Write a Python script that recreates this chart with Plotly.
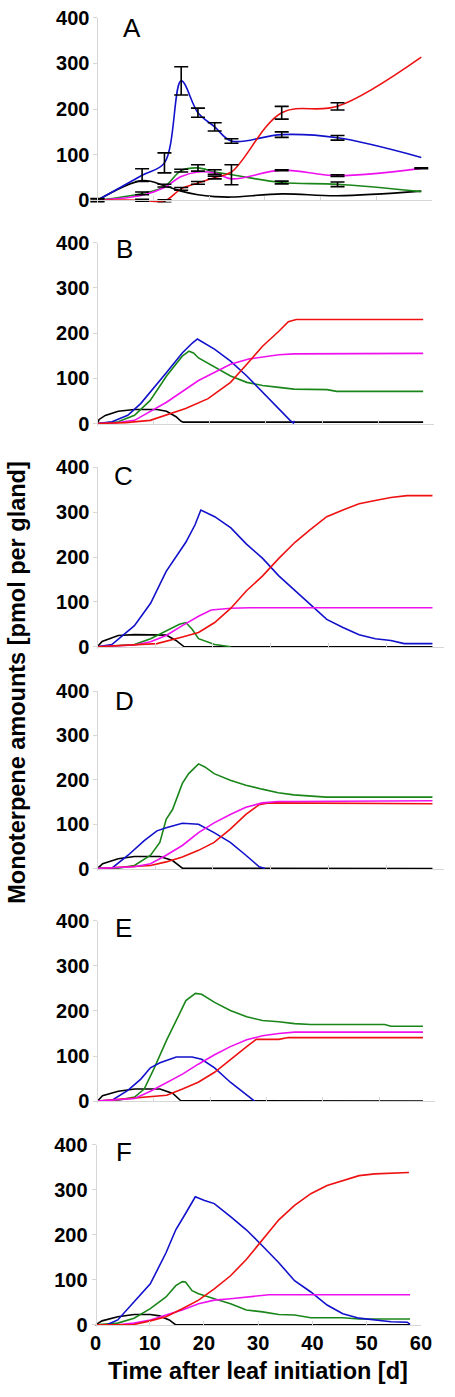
import plotly.graph_objects as go

W, H = 455, 1397

# ---------------- data ----------------
X_TICKS = [0, 10, 20, 30, 40, 50, 60]
Y_TICKS = [0, 100, 200, 300, 400]
PANEL_LETTERS = ["A", "B", "C", "D", "E", "F"]

# Panel A: measured data (smoothed line + error bars)
A_days = [0, 8, 12, 15, 18, 21, 24, 33, 43, 58]
A_red = [0, 0, -2, 25, 38, 50, 62, 192, 206, 314]
A_blue = [0, 55, 82, 262, 192, 161, 130, 144, 137, 94]
A_green = [0, 15, 30, 65, 71, 62, 56, 39, 35, 19]
A_magenta = [0, 11, 28, 52, 62, 60, 47, 66, 54, 70]
A_black = [0, 43, 32, 20, 12, 8, 7, 14, 10, 20]
A_red_err = [3, 2, 3, 3, 3, 3, None, 14, 8, None]
A_blue_err = [None, 14, 22, 31, 10, 9, 5, 6, 5, None]
A_green_err = [None, 3, None, 3, 7, 5, 22, 3, 5, None]
A_magenta_err = [None, None, None, None, None, None, None, 1, 2, 1]
A_black_err = [4, None, 3, None, None, None, None, None, None, None]

# Panel B
B_red_d = [0, 5, 9.4, 15.7, 19.7, 23.7, 26.6, 29.4, 32.3, 34, 35.4, 58]
B_red = [0, 2, 7, 33, 55, 91, 131, 171, 204, 225, 230, 230]
B_magenta_d = [0, 3, 6.6, 12.3, 18, 23.7, 27.1, 32.3, 35, 58]
B_magenta = [0, 1, 7, 47, 95, 131, 143, 152, 154, 155]
B_green_d = [0, 3.7, 6.6, 9.4, 12.3, 15.1, 16.3, 17.1, 18, 20.9, 23.7, 26.6, 29.4, 32.3, 35, 40.9, 42.6, 58]
B_green = [0, 4, 18, 51, 105, 149, 160, 156, 145, 124, 105, 91, 84, 80, 76, 75, 71, 71]
B_blue_d = [0, 2.6, 5.4, 7.7, 12.3, 15.1, 16.9, 17.8, 20.9, 23.7, 26.6, 29.4, 32.3, 34.3, 34.9, 35.1]
B_blue = [0, 4, 18, 44, 113, 156, 178, 187, 164, 138, 105, 69, 33, 7, 1, 6]
B_black_d = [0, 0.3, 1.4, 3.7, 6.6, 10.6, 12.3, 14, 14.9, 15.3, 58]
B_black = [0, 9, 18, 27, 31, 31, 27, 15, 5, 3, 3]

# Panel C
C_blue_d = [0, 2.5, 6.4, 9.2, 11.9, 13.1, 15.3, 16.9, 17.9, 20.3, 23.1, 25.8, 28.6, 31.4, 34.2, 36.4, 39.7, 42.5, 45.3, 48.1, 50.8, 53.1, 58]
C_blue = [0, 5, 47, 97, 168, 190, 233, 272, 305, 290, 265, 229, 197, 158, 125, 100, 61, 43, 27, 18, 14, 7, 7]
C_red_d = [0, 6.4, 10.3, 14.7, 17.5, 20.3, 23.1, 25.8, 28.6, 31.4, 34.2, 36.9, 39.7, 42.5, 45.3, 48.1, 50.8, 53.6, 58]
C_red = [0, 4, 7, 22, 32, 54, 86, 125, 158, 197, 233, 262, 290, 305, 319, 326, 333, 337, 337]
C_magenta_d = [0, 6.4, 9.2, 11.9, 14.7, 17.5, 19.7, 23.1, 26.4, 58]
C_magenta = [0, 4, 11, 25, 47, 68, 82, 86, 87, 87]
C_green_d = [0, 6.4, 9.2, 11.9, 14.2, 15.3, 16.4, 17.5, 20.3, 23.1]
C_green = [0, 5, 18, 36, 50, 54, 39, 18, 5, 0]
C_black_d = [0, 0.8, 3.6, 6.4, 11.9, 13.6, 15, 58]
C_black = [0, 12, 25, 27, 26, 14, 0, 0]

# Panel D
D_green_d = [0, 3.6, 6.4, 9.2, 10.8, 11.9, 13, 14.7, 15.8, 17.5, 18.6, 20.2, 23, 25.7, 28.5, 31.3, 34, 39.6, 58]
D_green = [0, 1, 7, 30, 59, 111, 133, 192, 214, 236, 229, 214, 199, 188, 179, 171, 166, 161, 161]
D_blue_d = [0, 2.5, 5.3, 8.1, 10.3, 11.9, 14.7, 17.5, 20.2, 23, 25.7, 28, 29]
D_blue = [0, 1, 30, 63, 85, 92, 102, 100, 81, 59, 30, 4, 0]
D_magenta_d = [0, 6.4, 9.2, 11.9, 14.7, 17.5, 20.2, 23, 25.7, 28.5, 31.3, 34, 58]
D_magenta = [0, 4, 11, 30, 52, 81, 103, 122, 138, 148, 151, 151, 153]
D_red_d = [0, 9.2, 11.9, 14.7, 17.5, 20.2, 23, 25.7, 28, 29.6, 58]
D_red = [0, 7, 15, 26, 41, 59, 89, 122, 144, 148, 146]
D_black_d = [0, 0.9, 3.6, 6.4, 10.8, 13, 14.7, 58]
D_black = [0, 11, 22, 27, 27, 18, 1, 0]

# Panel E
E_green_d = [0, 3.7, 6.6, 8.3, 10, 12.3, 14, 15.7, 17.4, 18.5, 20.8, 23.6, 26.5, 29.3, 32.2, 35, 37.9, 51, 52.1, 57.8]
E_green = [0, 2, 9, 27, 71, 136, 179, 223, 239, 237, 219, 201, 187, 179, 176, 172, 170, 170, 166, 166]
E_blue_d = [0, 2.6, 5.4, 7.7, 9.4, 11.1, 14, 16.8, 18.5, 20.8, 23.6, 26.5, 27.9]
E_blue = [0, 2, 24, 49, 74, 85, 98, 98, 93, 74, 42, 14, 0]
E_magenta_d = [0, 6.6, 9.4, 12.3, 15.1, 17.9, 20.8, 23.6, 26.5, 29.3, 32.2, 35, 57.8]
E_magenta = [0, 6, 22, 42, 60, 82, 103, 121, 136, 145, 150, 153, 153]
E_red_d = [0, 9.4, 12.3, 15.1, 17.9, 20.8, 23.6, 26.5, 28.2, 32.2, 33.9, 57.8]
E_red = [0, 9, 13, 27, 42, 64, 93, 121, 137, 137, 141, 141]
E_black_d = [0, 0.9, 3.7, 6.6, 11.1, 13.4, 14.8, 57.8]
E_black = [0, 12, 22, 27, 27, 17, 1, 0]

# Panel F
F_blue_d = [0, 2, 4.1, 7.1, 10.1, 13, 14.8, 16.6, 18.4, 20.1, 21.9, 24.9, 27.8, 30.8, 33.8, 36.7, 39.7, 42.7, 45.6, 48.6, 51.5, 54.5, 57.5, 58]
F_blue = [0, 0, 11, 51, 91, 160, 211, 247, 284, 276, 269, 240, 211, 175, 138, 98, 73, 44, 25, 15, 11, 7, 6, 1]
F_red_d = [0, 7.1, 10.1, 13, 16, 19, 21.9, 24.9, 27.8, 30.8, 33.8, 36.7, 39.7, 42.7, 45.6, 48.6, 51.5, 54.5, 57.8]
F_red = [0, 1, 9, 18, 36, 55, 80, 109, 145, 189, 233, 265, 291, 309, 320, 331, 335, 336, 338]
F_magenta_d = [0, 4.1, 7.1, 10.1, 13, 16, 19, 21.9, 24.9, 27.8, 30.8, 32, 58]
F_magenta = [0, 0, 4, 11, 22, 33, 47, 55, 58, 62, 65, 67, 67]
F_green_d = [0, 4.1, 7.1, 10.1, 13, 14.8, 16, 16.6, 17.8, 19, 21.9, 24.9, 27.8, 30.8, 33.8, 36.7, 39.7, 45.6, 48.6, 58]
F_green = [0, 4, 15, 36, 62, 87, 96, 95, 76, 69, 58, 47, 33, 29, 23, 22, 16, 16, 13, 13]
F_black_d = [0, 1.2, 4.1, 7.1, 10.1, 11.8, 13.6, 14.8, 58]
F_black = [0, 9, 18, 23, 23, 20, 11, 0, 0]

# ---------------- styling ----------------
COL = {"red": "#ee1111", "blue": "#1111cc", "green": "#1a861a",
       "magenta": "#ee11ee", "black": "#000000"}
FONT = "Liberation Sans, Arial, sans-serif"
AXIS_GRAY = "#d6d6d6"

# pixel geometry of each panel: x of day 0, x of day 60, y of value 0, y of value 400
GEOM = {
    "A": (95, 443, 192, 7),
    "B": (95, 445, 418.5, 235),
    "C": (95, 455, 645, 463),
    "D": (95, 455, 870, 690),
    "E": (95, 446, 1106, 923),
    "F": (93, 431, 1333, 1150),
}
LETTER_POS = {"A": (119, 17), "B": (112, 241), "C": (110, 472),
              "D": (111, 700), "E": (111, 930), "F": (112, 1158)}

PANELS = {
    "A": [("black", A_days, A_black, A_black_err), ("green", A_days, A_green, A_green_err),
          ("magenta", A_days, A_magenta, A_magenta_err), ("blue", A_days, A_blue, A_blue_err),
          ("red", A_days, A_red, A_red_err)],
    "B": [("black", B_black_d, B_black, None), ("green", B_green_d, B_green, None),
          ("blue", B_blue_d, B_blue, None), ("magenta", B_magenta_d, B_magenta, None),
          ("red", B_red_d, B_red, None)],
    "C": [("black", C_black_d, C_black, None), ("green", C_green_d, C_green, None),
          ("blue", C_blue_d, C_blue, None), ("magenta", C_magenta_d, C_magenta, None),
          ("red", C_red_d, C_red, None)],
    "D": [("black", D_black_d, D_black, None), ("green", D_green_d, D_green, None),
          ("blue", D_blue_d, D_blue, None), ("red", D_red_d, D_red, None),
          ("magenta", D_magenta_d, D_magenta, None)],
    "E": [("black", E_black_d, E_black, None), ("green", E_green_d, E_green, None),
          ("blue", E_blue_d, E_blue, None), ("red", E_red_d, E_red, None),
          ("magenta", E_magenta_d, E_magenta, None)],
    "F": [("black", F_black_d, F_black, None), ("green", F_green_d, F_green, None),
          ("blue", F_blue_d, F_blue, None), ("magenta", F_magenta_d, F_magenta, None),
          ("red", F_red_d, F_red, None)],
}

fig = go.Figure()
layout = dict(
    width=W, height=H, margin=dict(l=0, r=0, t=0, b=0),
    paper_bgcolor="white", plot_bgcolor="rgba(0,0,0,0)",
    showlegend=False, font=dict(family=FONT, color="black"),
)
annotations = []
YMIN = -5

for i, letter in enumerate(PANEL_LETTERS):
    sfx = "" if i == 0 else str(i + 1)
    x0, x60, y0, y400 = GEOM[letter]
    xmin = -1.4 if letter == "A" else 0
    pxd = (x60 - x0) / 60.0
    pyv = (y0 - y400) / 400.0
    left = x0 + xmin * pxd
    bottom = y0 - YMIN * pyv
    layout["xaxis" + sfx] = dict(
        domain=[left / W, x60 / W], range=[xmin, 60], anchor="free",
        position=1 - y0 / H, showline=True, linecolor=AXIS_GRAY, linewidth=1,
        ticks="inside", ticklen=4, tickcolor=AXIS_GRAY, tickvals=X_TICKS,
        ticktext=[str(t) for t in X_TICKS], showticklabels=(letter == "F"),
        tickfont=dict(family=FONT, size=20, color="black", weight="bold"),
        showgrid=False, zeroline=False, fixedrange=True,
    )
    layout["yaxis" + sfx] = dict(
        domain=[1 - bottom / H, 1 - y400 / H], range=[YMIN, 400], anchor="free",
        position=x0 / W, showline=True, linecolor=AXIS_GRAY, linewidth=1,
        ticks="outside", ticklen=4, tickcolor=AXIS_GRAY, tickvals=Y_TICKS,
        ticktext=[str(t) for t in Y_TICKS],
        tickfont=dict(family=FONT, size=20, color="black", weight="bold"),
        showgrid=False, zeroline=False, fixedrange=True,
    )
    xa, ya = "x" + sfx, "y" + sfx
    for name, days, vals, _ in PANELS[letter]:
        fig.add_trace(go.Scatter(
            x=days, y=vals, mode="lines", xaxis=xa, yaxis=ya,
            line=dict(color=COL[name], width=1.6,
                      shape="spline" if letter == "A" else "linear",
                      smoothing=1.0 if letter == "A" else None),
            hoverinfo="skip", showlegend=False,
        ))
    for name, days, vals, errs in PANELS[letter]:
        if errs is None:
            continue
        idx = [k for k, e in enumerate(errs) if e is not None]
        fig.add_trace(go.Scatter(
            x=[days[k] for k in idx], y=[vals[k] for k in idx], mode="markers",
            xaxis=xa, yaxis=ya, marker=dict(size=1, color="rgba(0,0,0,0)"),
            error_y=dict(type="data", array=[errs[k] for k in idx], visible=True,
                         color="black", thickness=1.6, width=7),
            hoverinfo="skip", showlegend=False,
        ))
    lx, ly = LETTER_POS[letter]
    annotations.append(dict(
        text=letter, x=lx / W, y=1 - ly / H, xref="paper", yref="paper",
        xanchor="left", yanchor="middle", showarrow=False,
        font=dict(family=FONT, size=26, color="black"),
    ))

annotations.append(dict(
    text="Time after leaf initiation [d]", x=262 / W, y=1 - 1380 / H,
    xref="paper", yref="paper", xanchor="center", yanchor="middle", showarrow=False,
    font=dict(family=FONT, size=23.5, color="black", weight="bold"),
))
annotations.append(dict(
    text="Monoterpene amounts [pmol per gland]", x=12 / W, y=1 - 681 / H,
    xref="paper", yref="paper", xanchor="center", yanchor="middle", showarrow=False,
    textangle=-90, font=dict(family=FONT, size=23.5, color="black", weight="bold"),
))
layout["annotations"] = annotations
fig.update_layout(**layout)
fig.write_html(
    "out.html",
    config={"displayModeBar": False, "staticPlot": True},
    post_script="document.body.style.margin='0';document.body.style.overflow='hidden';",
)
